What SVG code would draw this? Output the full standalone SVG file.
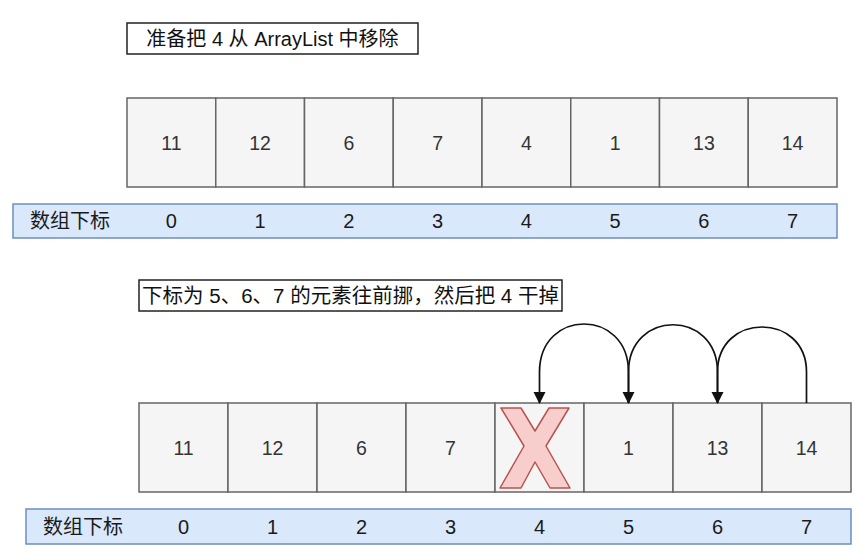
<svg xmlns="http://www.w3.org/2000/svg" width="861" height="557" viewBox="0 0 861 557">
<defs>
<style>
.t{font-family:"Liberation Sans","Noto Sans CJK SC",sans-serif;text-anchor:middle;}
.cell{fill:#f5f5f5;stroke:#666666;stroke-width:1.5;}
.bar{fill:#dae8fc;stroke:#6c8ebf;stroke-width:1.5;}
.title{fill:#ffffff;stroke:#222222;stroke-width:1.5;}
.ct{font-size:19.5px;fill:#333333;}
.bt{font-size:20px;fill:#1a1a1a;}
.tt{font-size:20px;fill:#111111;}
.edge{fill:none;stroke:#111111;stroke-width:1.7;}
</style>
<marker id="arr" markerUnits="userSpaceOnUse" markerWidth="12" markerHeight="14" viewBox="0 0 12 14" refX="11" refY="6" orient="auto">
<path d="M0 0 L12 6 L0 12 Z" fill="#111111"/>
</marker>
</defs>
<rect width="861" height="557" fill="#ffffff"/>

<g id="title1">
<rect class="title" x="127" y="23" width="291" height="31"/>
<text class="t tt" x="272.5" y="45.5">准备把 4 从 ArrayList 中移除</text>
</g>

<g id="array1">
<g id="a1c0"><rect class="cell" x="127" y="98" width="88.75" height="89"/><text class="t ct" x="171.4" y="149.5">11</text></g>
<g id="a1c1"><rect class="cell" x="215.75" y="98" width="88.75" height="89"/><text class="t ct" x="260.1" y="149.5">12</text></g>
<g id="a1c2"><rect class="cell" x="304.5" y="98" width="88.75" height="89"/><text class="t ct" x="348.9" y="149.5">6</text></g>
<g id="a1c3"><rect class="cell" x="393.25" y="98" width="88.75" height="89"/><text class="t ct" x="437.6" y="149.5">7</text></g>
<g id="a1c4"><rect class="cell" x="482" y="98" width="88.75" height="89"/><text class="t ct" x="526.4" y="149.5">4</text></g>
<g id="a1c5"><rect class="cell" x="570.75" y="98" width="88.75" height="89"/><text class="t ct" x="615.1" y="149.5">1</text></g>
<g id="a1c6"><rect class="cell" x="659.5" y="98" width="88.75" height="89"/><text class="t ct" x="703.9" y="149.5">13</text></g>
<g id="a1c7"><rect class="cell" x="748.25" y="98" width="88.75" height="89"/><text class="t ct" x="792.6" y="149.5">14</text></g>
</g>

<g id="index1">
<rect class="bar" x="13" y="204" width="824" height="34"/>
<text class="t bt" x="70" y="228">数组下标</text>
<text class="t bt" x="171.4" y="228">0</text>
<text class="t bt" x="260.1" y="228">1</text>
<text class="t bt" x="348.9" y="228">2</text>
<text class="t bt" x="437.6" y="228">3</text>
<text class="t bt" x="526.4" y="228">4</text>
<text class="t bt" x="615.1" y="228">5</text>
<text class="t bt" x="703.9" y="228">6</text>
<text class="t bt" x="792.6" y="228">7</text>
</g>

<g id="title2">
<rect class="title" x="139" y="280" width="423" height="31"/>
<text class="t tt" x="350.5" y="302.5" style="font-size:20.5px">下标为 5、6、7 的元素往前挪，然后把 4 干掉</text>
</g>

<g id="array2">
<g id="a2c0"><rect class="cell" x="139" y="403" width="89" height="89"/><text class="t ct" x="183.5" y="454.5">11</text></g>
<g id="a2c1"><rect class="cell" x="228" y="403" width="89" height="89"/><text class="t ct" x="272.5" y="454.5">12</text></g>
<g id="a2c2"><rect class="cell" x="317" y="403" width="89" height="89"/><text class="t ct" x="361.5" y="454.5">6</text></g>
<g id="a2c3"><rect class="cell" x="406" y="403" width="89" height="89"/><text class="t ct" x="450.5" y="454.5">7</text></g>
<g id="a2c4"><rect class="cell" x="495" y="403" width="89" height="89"/></g>
<g id="a2c5"><rect class="cell" x="584" y="403" width="89" height="89"/><text class="t ct" x="628.5" y="454.5">1</text></g>
<g id="a2c6"><rect class="cell" x="673" y="403" width="89" height="89"/><text class="t ct" x="717.5" y="454.5">13</text></g>
<g id="a2c7"><rect class="cell" x="762" y="403" width="89" height="89"/><text class="t ct" x="806.5" y="454.5">14</text></g>
</g>

<g id="cross">
<polygon points="501,408 521,408 535,431 549,408 569,408 546,446 570,488 550,488 535,462 521,488 500,488 524,446" fill="#f8cecc" stroke="#b85450" stroke-width="1.5" stroke-linejoin="round"/>
</g>

<g id="index2">
<rect class="bar" x="26" y="509" width="825" height="35"/>
<text class="t bt" x="83" y="534">数组下标</text>
<text class="t bt" x="183.5" y="534">0</text>
<text class="t bt" x="272.5" y="534">1</text>
<text class="t bt" x="361.5" y="534">2</text>
<text class="t bt" x="450.5" y="534">3</text>
<text class="t bt" x="539.5" y="534">4</text>
<text class="t bt" x="628.5" y="534">5</text>
<text class="t bt" x="717.5" y="534">6</text>
<text class="t bt" x="806.5" y="534">7</text>
</g>

<g id="connectors">
<path class="edge" d="M628.5 403 L628.5 372 C628.5 308 539.5 308 539.5 372 L539.5 403" marker-end="url(#arr)"/>
<path class="edge" d="M717.5 403 L717.5 372 C717.5 309 628.5 309 628.5 372 L628.5 403" marker-end="url(#arr)"/>
<path class="edge" d="M806.5 403 L806.5 372 C806.5 312 717.5 312 717.5 372 L717.5 403" marker-end="url(#arr)"/>
</g>
</svg>
